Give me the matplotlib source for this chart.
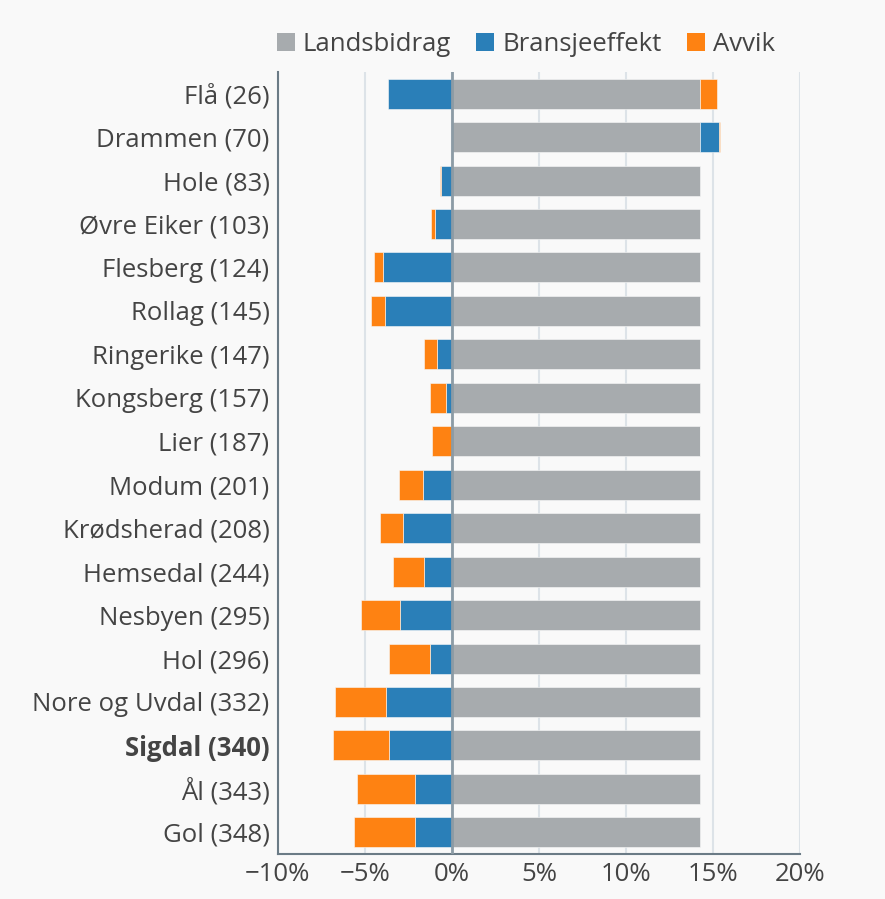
import numpy as np
import matplotlib.pyplot as plt
from matplotlib.patches import Patch
from matplotlib.ticker import FuncFormatter

plt.rcParams['font.family'] = ['Open Sans', 'DejaVu Sans']

kommuner = ['Flå (26)', 'Drammen (70)', 'Hole (83)', 'Øvre Eiker (103)',
            'Flesberg (124)', 'Rollag (145)', 'Ringerike (147)',
            'Kongsberg (157)', 'Lier (187)', 'Modum (201)',
            'Krødsherad (208)', 'Hemsedal (244)', 'Nesbyen (295)',
            'Hol (296)', 'Nore og Uvdal (332)', 'Sigdal (340)',
            'Ål (343)', 'Gol (348)']
landsbidrag = [14.25] * 18
bransjeeffekt = [-3.68, 1.07, -0.62, -0.98, -3.94, -3.85, -0.88, -0.37, 0.0,
                 -1.69, -2.79, -1.60, -2.96, -1.25, -3.77, -3.60, -2.15, -2.15]
avvik = [0.98, 0.10, -0.08, -0.25, -0.54, -0.81, -0.71, -0.88, -1.15,
         -1.35, -1.35, -1.81, -2.25, -2.35, -2.96, -3.23, -3.33, -3.50]

serier = ['Landsbidrag', 'Bransjeeffekt', 'Avvik']
farger = ['#a7abae', '#2a7fb8', '#fe8212']
bg = '#f9f9f9'

fig = plt.figure(figsize=(8.85, 8.99), dpi=100, facecolor=bg)
ax = fig.add_axes([0.314, 0.05, 0.59, 0.87], facecolor=bg)

y = np.arange(len(kommuner))
pos = np.zeros(len(kommuner))
neg = np.zeros(len(kommuner))
for vals, col in zip([landsbidrag, bransjeeffekt, avvik], farger):
    vals = np.array(vals)
    left = np.where(vals >= 0, pos, neg)
    ax.barh(y, vals, left=left, height=0.69, color=col,
            edgecolor=bg, linewidth=0.4, zorder=3)
    pos = pos + np.clip(vals, 0, None)
    neg = neg + np.clip(vals, None, 0)

ax.set_ylim(len(kommuner) - 0.5, -0.5)
ax.set_xlim(-10, 20)
ax.set_xticks([-10, -5, 0, 5, 10, 15, 20])
ax.xaxis.set_major_formatter(FuncFormatter(lambda v, p: f'{v:.0f}%'.replace('-', '\u2212')))
ax.set_yticks(y)
ax.set_yticklabels(kommuner)
for lbl in ax.get_yticklabels():
    if lbl.get_text().startswith('Sigdal'):
        lbl.set_fontweight('bold')

ax.grid(axis='x', color='#dde3e8', linewidth=1.5, zorder=0)
ax.axvline(0, color='#8c9ba5', linewidth=2, zorder=4)
ax.tick_params(axis='both', length=0, labelsize=18.5, labelcolor='#444444')
ax.tick_params(axis='y', pad=6)
ax.tick_params(axis='x', pad=6)
for s in ['top', 'right']:
    ax.spines[s].set_visible(False)
for s in ['left', 'bottom']:
    ax.spines[s].set_color('#6b7b86')
    ax.spines[s].set_linewidth(1.5)

handles = [Patch(facecolor=c, edgecolor='none') for c in farger]
fig.legend(handles, serier, loc='center', bbox_to_anchor=(0.594, 0.951),
           ncol=3, frameon=False, fontsize=18.5, handlelength=0.7,
           handleheight=0.7, handletextpad=0.3, columnspacing=1.0,
           labelcolor='#444444')

fig.savefig('out.png', dpi=100, facecolor=bg)
